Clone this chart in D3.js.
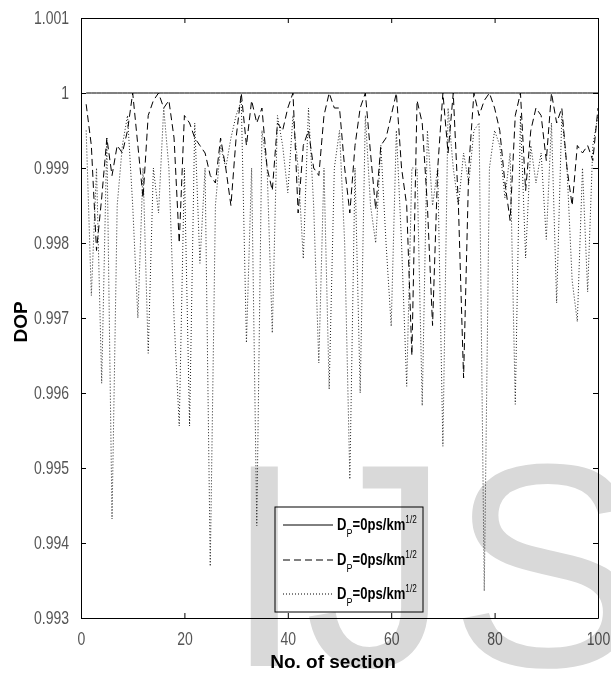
<!DOCTYPE html>
<html>
<head>
<meta charset="utf-8">
<script src="https://cdn.jsdelivr.net/npm/d3@7"></script>
<style>
  html, body { margin: 0; padding: 0; background: #fff; }
  svg { display: block; }
</style>
</head>
<body>
<svg id="chart" width="611" height="677"></svg>
<script>
// ---- data ----
const sections = d3.range(1, 101);
const solidValues = sections.map(() => 1.0);
const dashedValues = [
  0.99985, 0.9993, 0.9979, 0.9986, 0.9994, 0.9989, 0.9993, 0.9992, 0.9995, 1.0000,
  0.9993, 0.9986, 0.9997, 0.9999, 1.0000, 0.9998, 0.9999, 0.9994, 0.9980, 0.9997,
  0.9996, 0.9994, 0.9993, 0.9992, 0.9989, 0.9988, 0.9994, 0.9990, 0.9985, 0.9994,
  1.0000, 0.9993, 0.9999, 0.9996, 0.9998, 0.9990, 0.9987, 0.9996, 0.9995, 0.9998,
  1.0000, 0.9984, 0.9993, 0.9995, 0.9990, 0.9989, 0.9997, 1.0000, 0.9998, 0.9998,
  0.9990, 0.9984, 0.9993, 0.9998, 1.0000, 0.9992, 0.99845, 0.9993, 0.9994, 0.9997,
  1.0000, 0.9990, 0.9985, 0.9965, 0.9999, 0.9996, 0.9985, 0.9969, 0.9990, 1.0000,
  0.9992, 1.0000, 0.9985, 0.9962, 0.9990, 1.0000, 0.9997, 0.9999, 1.0000, 0.9998,
  0.9995, 0.9988, 0.9983, 0.9997, 1.0000, 0.9987, 0.9995, 0.9998, 0.9997, 0.9991,
  1.0000, 0.9996, 0.9998, 0.9990, 0.9985, 0.9993, 0.9992, 0.9993, 0.9991, 0.9998
];
const dottedValues = [
  0.9995, 0.9973, 0.9990, 0.99613, 0.9994, 0.99432, 0.9985, 0.9993, 0.9997, 0.9985,
  0.9970, 0.9990, 0.99653, 0.9990, 0.9984, 0.9998, 0.9990, 0.9970, 0.99556, 0.9990,
  0.99556, 0.9996, 0.99773, 0.9990, 0.99369, 0.9985, 0.9993, 0.9990, 0.9994, 0.9997,
  0.9999, 0.99667, 0.9990, 0.99423, 0.9995, 0.9990, 0.9968, 0.9997, 0.9993, 0.99867,
  0.9997, 0.9990, 0.99779, 0.9998, 0.9985, 0.9964, 0.9990, 0.99605, 0.9990, 0.9995,
  0.9980, 0.99485, 0.9990, 0.9960, 0.9997, 0.9985, 0.9980, 0.9993, 0.9980, 0.99689,
  0.9995, 0.9980, 0.99609, 0.9990, 0.9990, 0.99583, 0.9995, 0.9985, 0.9990, 0.99529,
  0.9998, 0.9990, 0.9985, 0.9992, 0.9988, 0.9995, 0.9996, 0.99336, 0.9990, 0.9995,
  0.9993, 0.9986, 0.9992, 0.99585, 0.9997, 0.9978, 0.9993, 0.9988, 0.9992, 0.99805,
  0.9996, 0.9972, 0.9997, 0.9990, 0.9975, 0.99695, 0.9990, 0.99735, 0.9993, 0.9997
];
const xTicks = [0, 20, 40, 60, 80, 100];
const yTicks = [0.993, 0.994, 0.995, 0.996, 0.997, 0.998, 0.999, 1.000, 1.001];
const yTickLabels = ["0.993", "0.994", "0.995", "0.996", "0.997", "0.998", "0.999", "1", "1.001"];
const legendLabels = ["D", "D", "D"];
const xLabel = "No. of section";
const yLabel = "DOP";
const watermark = "IJS";

// ---- layout ----
const L = 81, R = 598, T = 18, B = 618;
const svg = d3.select("#chart");
const x = d3.scaleLinear().domain([0, 100]).range([L, R]);
const y = d3.scaleLinear().domain([0.993, 1.001]).range([B, T]);
const FONT = "'Liberation Sans', Arial, sans-serif";

svg.append("rect").attr("x", 0).attr("y", 0).attr("width", 611).attr("height", 677).attr("fill", "#fff");

svg.append("defs").append("clipPath").attr("id", "clip")
  .append("rect").attr("x", L).attr("y", T).attr("width", R - L).attr("height", B - T);

const line = d3.line().x((d, i) => x(sections[i])).y(d => y(d));

const lines = svg.append("g").attr("clip-path", "url(#clip)");
lines.append("path").datum(dottedValues).attr("d", line)
  .attr("fill", "none").attr("stroke", "#222").attr("stroke-width", 1)
  .attr("stroke-dasharray", "1,2");
lines.append("path").datum(dashedValues).attr("d", line)
  .attr("fill", "none").attr("stroke", "#000").attr("stroke-width", 1)
  .attr("stroke-dasharray", "7,4");
lines.append("path").datum(solidValues).attr("d", line)
  .attr("fill", "none").attr("stroke", "#000").attr("stroke-width", 1);

// axes with inward ticks
const tickLen = 5;
const axB = d3.axisBottom(x).tickValues(xTicks).tickSizeInner(-tickLen).tickSizeOuter(0).tickFormat(d3.format("d")).tickPadding(12);
const axT = d3.axisTop(x).tickValues(xTicks).tickSizeInner(-tickLen).tickSizeOuter(0).tickFormat("");
const axLft = d3.axisLeft(y).tickValues(yTicks).tickSizeInner(-tickLen).tickSizeOuter(0)
  .tickFormat((d, i) => yTickLabels[i]).tickPadding(12);
const axRgt = d3.axisRight(y).tickValues(yTicks).tickSizeInner(-tickLen).tickSizeOuter(0).tickFormat("");

function style(g) {
  g.select(".domain").attr("stroke", "#000");
  g.selectAll(".tick line").attr("stroke", "#000");
  g.selectAll("text").attr("fill", "#555").style("font-family", FONT).style("font-size", "14px")
    .attr("transform", "scale(1,1.25)");
}
svg.append("g").attr("transform", `translate(0,${B})`).call(axB).call(style);
svg.append("g").attr("transform", `translate(0,${T})`).call(axT).call(style);
svg.append("g").attr("transform", `translate(${L},0)`).call(axLft).call(style);
svg.append("g").attr("transform", `translate(${R},0)`).call(axRgt).call(style);

// axis labels
svg.append("text").attr("x", 333).attr("y", 668).attr("text-anchor", "middle")
  .style("font-family", FONT).style("font-weight", "bold").style("font-size", "19px")
  .text(xLabel);
svg.append("text").attr("transform", "translate(27,322) rotate(-90)").attr("text-anchor", "middle")
  .style("font-family", FONT).style("font-weight", "bold").style("font-size", "19px")
  .text(yLabel);

// legend
const lg = svg.append("g");
lg.append("rect").attr("x", 275).attr("y", 507).attr("width", 148).attr("height", 105)
  .attr("fill", "#fff").attr("stroke", "#000").attr("stroke-width", 1);
const rowsY = [525, 560, 594];
const dashes = [null, "7,4", "1,2"];
rowsY.forEach((ry, i) => {
  const l = lg.append("line").attr("x1", 283).attr("x2", 333).attr("y1", ry).attr("y2", ry)
    .attr("stroke", "#000").attr("stroke-width", 1);
  if (dashes[i]) l.attr("stroke-dasharray", dashes[i]);
  const t = lg.append("text").attr("transform", `translate(337,${ry + 5}) scale(0.82,1.05)`)
    .style("font-family", FONT)
    .style("font-weight", "bold").style("font-size", "16px").attr("fill", "#000");
  t.append("tspan").text(legendLabels[i]);
  t.append("tspan").attr("dy", 7).style("font-size", "11px").style("font-weight", "normal").text("P");
  t.append("tspan").attr("dy", -7).text("=0ps/km");
  t.append("tspan").attr("dy", -7).style("font-size", "10px").style("font-weight", "normal").text("1/2");
});

// watermark
svg.append("text").attr("x", 224).attr("y", 666)
  .style("font-family", FONT).style("font-size", "290px")
  .attr("fill", "#d9d9d9").style("mix-blend-mode", "multiply")
  .text(watermark);
</script>
</body>
</html>
